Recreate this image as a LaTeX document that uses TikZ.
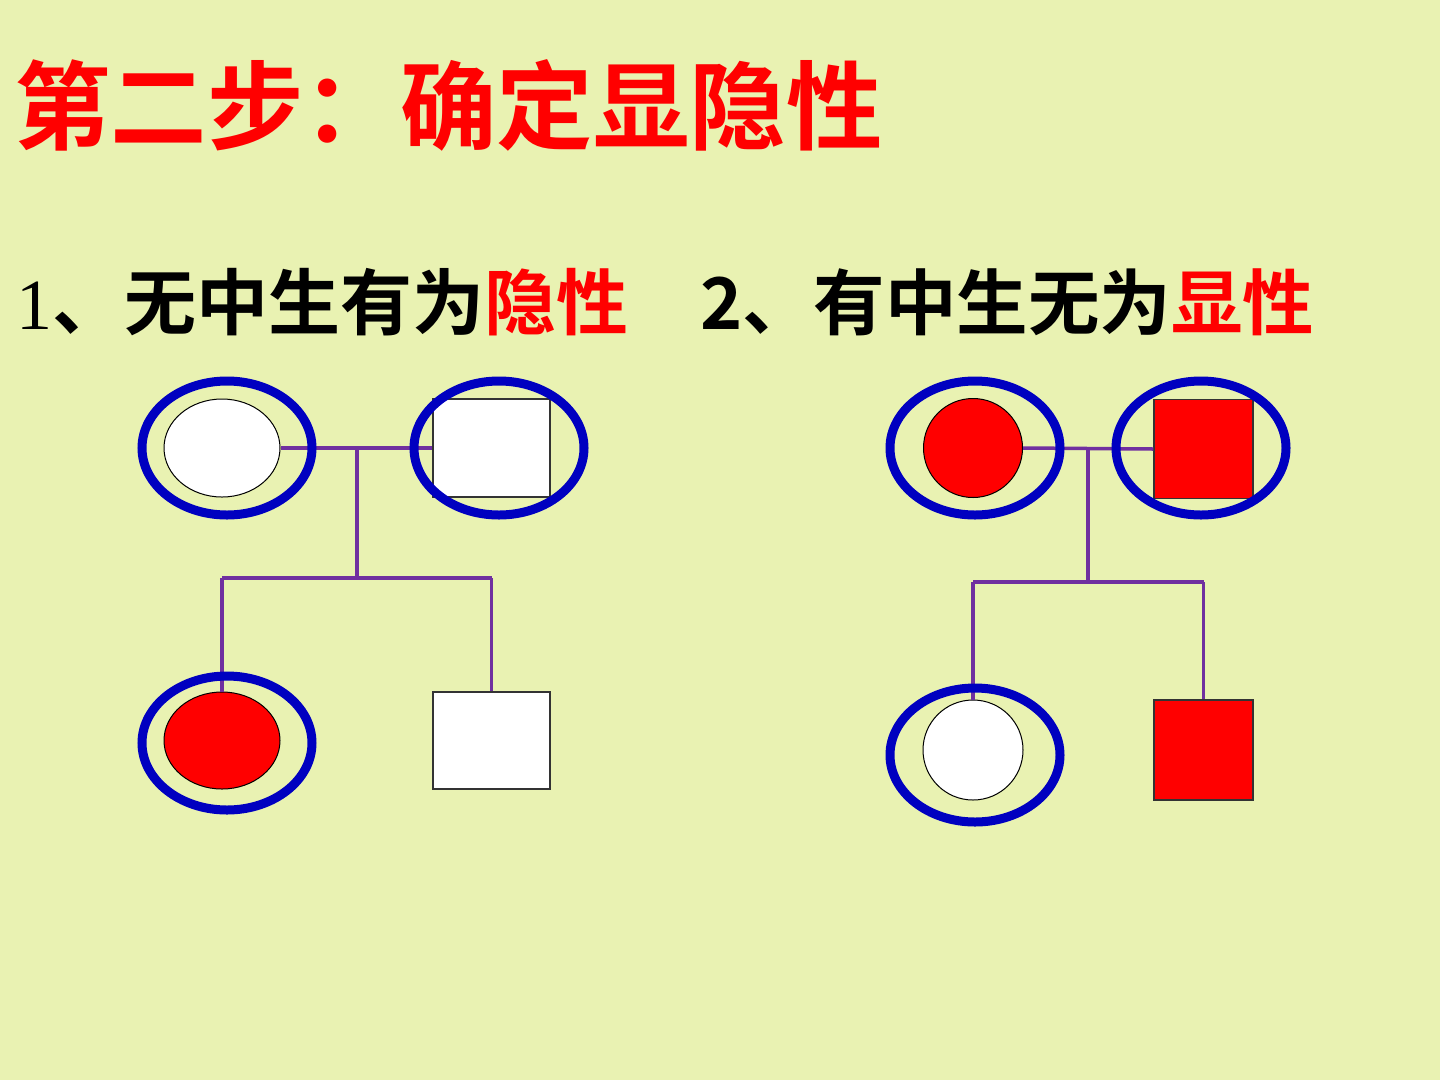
\documentclass[tikz,border=0pt]{standalone}
\usepackage{fontspec}
\newfontfamily\cjk{Noto Sans CJK SC}[BoldFont={Noto Sans CJK SC Bold}]
\newfontfamily\serifnum{Liberation Serif}
\definecolor{bg}{HTML}{E9F2B2}
\definecolor{ringblue}{HTML}{0000C0}
\definecolor{linepurple}{HTML}{7030A0}
\definecolor{affred}{HTML}{FF0000}
\tikzset{
  ring/.style={draw=ringblue, line width=9pt, ellipse, minimum width=170pt, minimum height=134pt, inner sep=0pt},
  female/.style={draw=black, line width=1pt, ellipse, inner sep=0pt},
  male/.style={draw=black!80, line width=1.2pt, rectangle, inner sep=0pt},
  link/.style={draw=linepurple, line width=3.5pt},
}
\usetikzlibrary{shapes.geometric}
\begin{document}
\begin{tikzpicture}[x=1pt,y=-1pt]
\fill[bg] (0,0) rectangle (1440,1080);
\useasboundingbox (0,0) rectangle (1440,1080);
% texts
\node[anchor=west, inner sep=0pt, text=affred, font=\cjk\bfseries\fontsize{96.5}{100}\selectfont] (title) at (14,105) {第二步：确定显隐性};
\node[anchor=west, inner sep=0pt, font=\cjk\bfseries\fontsize{72}{76}\selectfont] (rule1) at (16,302) {{\serifnum\mdseries 1}、无中生有为\textcolor{affred}{隐性}};
\node[anchor=west, inner sep=0pt, font=\cjk\bfseries\fontsize{71.5}{76}\selectfont] (rule2) at (700,302) {2、有中生无为\textcolor{affred}{显性}};
% left pedigree
\node[female, fill=white, minimum width=116pt, minimum height=98pt] (m1) at (222,448) {};
\node[male, fill=white, minimum width=117pt, minimum height=98pt] (f1) at (491.5,448) {};
\node[female, fill=affred, minimum width=116pt, minimum height=97pt] (d1) at (222,740.5) {};
\node[male, fill=white, minimum width=117pt, minimum height=97pt] (s1) at (491.5,740.5) {};
\coordinate (j1) at (357,448);
\coordinate (k1) at (357,578);
\coordinate (kl1) at (222,578);
\coordinate (kr1) at (491.5,578);
\draw[link] (m1.east) -- (f1.west);
\draw[link] (j1) -- (k1);
\draw[link] (kl1) -- (kr1);
\draw[link] (kl1) -- (d1.north);
\draw[link] (kr1) -- (s1.north);
\node[ring] (rm1) at (227,448) {};
\node[ring] (rf1) at (499,448) {};
\node[ring] (rd1) at (227,743) {};
% right pedigree
\node[female, fill=affred, minimum width=99pt, minimum height=99pt] (m2) at (973,448) {};
\node[male, fill=affred, minimum width=99pt, minimum height=99pt] (f2) at (1203.5,449) {};
\node[female, fill=white, minimum width=100pt, minimum height=100pt] (d2) at (973,750) {};
\node[male, fill=affred, minimum width=99pt, minimum height=100pt] (s2) at (1203.5,750) {};
\coordinate (j2) at (1088,449);
\coordinate (k2) at (1088,582);
\coordinate (kl2) at (973,582);
\coordinate (kr2) at (1203.5,582);
\draw[link] (m2.east) -- (f2.west);
\draw[link] (j2) -- (k2);
\draw[link] (kl2) -- (kr2);
\draw[link] (kl2) -- (d2.north);
\draw[link] (kr2) -- (s2.north);
\node[ring] (rm2) at (975,448) {};
\node[ring] (rf2) at (1201,448) {};
\node[ring] (rd2) at (975,755) {};
\end{tikzpicture}
\end{document}
